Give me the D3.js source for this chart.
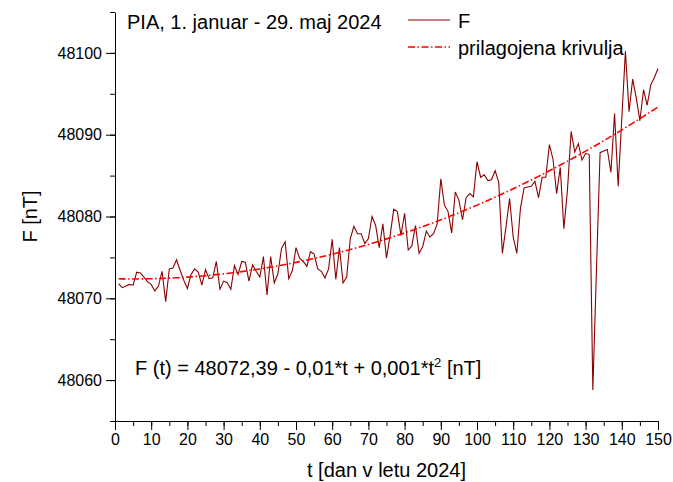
<!DOCTYPE html>
<html>
<head>
<meta charset="utf-8">
<script src="https://cdn.jsdelivr.net/npm/d3@7/dist/d3.min.js"></script>
<style>
  body { margin: 0; background: #fff; }
  svg { display: block; font-family: "Liberation Sans", Arial, sans-serif; }
</style>
</head>
<body>
<div id="chart"></div>
<script>
// day of year 2024 (1. januar = 1 ... 29. maj = 150)
var days = d3.range(1, 151);
// daily F values [nT]
var fValues = [
  48071.8, 48071.3, 48071.5, 48071.7, 48071.6, 48073.2, 48073.1, 48072.6, 48072.0, 48071.7,
  48070.9, 48071.5, 48073.3, 48069.6, 48073.6, 48073.7, 48074.7, 48073.4, 48072.2, 48071.2,
  48072.9, 48073.6, 48073.2, 48071.6, 48073.5, 48072.4, 48072.5, 48074.5, 48071.1, 48072.1,
  48071.9, 48071.1, 48074.0, 48072.9, 48074.5, 48074.4, 48072.1, 48074.1, 48073.3, 48072.6,
  48075.1, 48070.4, 48075.1, 48071.9, 48073.0, 48076.1, 48076.9, 48072.4, 48073.4, 48076.2,
  48074.9, 48074.5, 48073.9, 48075.7, 48075.4, 48073.6, 48073.3, 48072.5, 48073.6, 48077.2,
  48072.3, 48076.2, 48071.9, 48072.6, 48077.3, 48078.8, 48077.9, 48077.9, 48076.7, 48077.3,
  48080.0, 48078.9, 48076.2, 48079.1, 48074.9, 48077.7, 48080.9, 48080.6, 48077.7, 48080.4,
  48075.9, 48076.4, 48078.9, 48075.5, 48076.3, 48078.2, 48077.5, 48077.9, 48079.1, 48084.6,
  48081.4, 48080.6, 48078.0, 48083.0, 48082.0, 48079.6, 48082.3, 48082.8, 48082.4, 48086.7,
  48084.8, 48085.1, 48084.4, 48084.5, 48085.6, 48084.2, 48075.5, 48078.7, 48082.2, 48077.5,
  48075.5, 48081.0, 48083.5, 48083.6, 48083.7, 48084.3, 48082.3, 48084.8, 48084.8, 48088.8,
  48087.0, 48082.8, 48086.0, 48078.5, 48083.3, 48090.4, 48087.9, 48088.9, 48086.9, 48087.7,
  48087.6, 48058.8, 48073.5, 48087.8, 48088.0, 48088.2, 48085.4, 48092.6, 48083.7, 48092.0,
  48100.2, 48092.8, 48096.8, 48094.5, 48091.7, 48095.5, 48093.6, 48096.1, 48097.0, 48098.1
];
// fitted curve F(t) = a + b*t + c*t^2, coefficients as printed on the chart
var fitCoef = [48072.39, -0.01, 0.001];
var xTicks = d3.range(0, 151, 10);
var yTicks = [48060, 48070, 48080, 48090, 48100];

var width = 673, height = 482;
var margin = {top: 12, right: 15, bottom: 61, left: 115};

var svg = d3.select('#chart').append('svg')
    .attr('width', width)
    .attr('height', height);

var x = d3.scaleLinear().domain([0, 150]).range([margin.left, width - margin.right]);
var y = d3.scaleLinear().domain([48055, 48105]).range([height - margin.bottom, margin.top]);

// minor ticks
svg.append('g')
    .attr('transform', 'translate(0,' + y.range()[0] + ')')
    .call(d3.axisBottom(x).tickValues(d3.range(0, 151, 5)).tickSize(5).tickFormat(''))
    .call(function(g) { g.select('.domain').remove(); });
svg.append('g')
    .attr('transform', 'translate(' + margin.left + ',0)')
    .call(d3.axisLeft(y).tickValues(d3.range(48055, 48106, 5)).tickSize(5).tickFormat(''))
    .call(function(g) { g.select('.domain').remove(); });

// major axes
var xAxis = svg.append('g')
    .attr('transform', 'translate(0,' + y.range()[0] + ')')
    .call(d3.axisBottom(x).tickValues(xTicks).tickSize(9).tickSizeOuter(0).tickPadding(4));
var yAxis = svg.append('g')
    .attr('transform', 'translate(' + margin.left + ',0)')
    .call(d3.axisLeft(y).tickValues(yTicks).tickSize(9).tickSizeOuter(0).tickPadding(4).tickFormat(d3.format('d')));

svg.selectAll('.tick text').attr('font-size', 16).attr('font-family', '"Liberation Sans", Arial, sans-serif').attr('fill', '#000');
svg.selectAll('.domain, .tick line').attr('stroke', '#000').attr('stroke-width', 1);

// F line
var line = d3.line()
    .x(function(d, i) { return x(days[i]); })
    .y(function(d) { return y(d); });

svg.append('path')
    .datum(fValues)
    .attr('fill', 'none')
    .attr('stroke', '#8b0000')
    .attr('stroke-width', 1.1)
    .attr('d', line);

// fitted curve
var fitValues = days.map(function(t) { return fitCoef[0] + fitCoef[1] * t + fitCoef[2] * t * t; });
svg.append('path')
    .datum(fitValues)
    .attr('fill', 'none')
    .attr('stroke', '#ff0000')
    .attr('stroke-width', 1.6)
    .attr('stroke-dasharray', '7,2.5,1.5,2.5')
    .attr('d', line);

// title
svg.append('text')
    .attr('x', 127).attr('y', 29)
    .attr('font-size', 20)
    .text('PIA, 1. januar - 29. maj 2024');

// legend
var legend = [
  {label: 'F', color: '#8b0000', dash: null, w: 1.1, y: 20},
  {label: 'prilagojena krivulja', color: '#ff0000', dash: '7,2.5,1.5,2.5', w: 1.6, y: 47}
];
var lg = svg.selectAll('g.legend').data(legend).enter().append('g').attr('class', 'legend');
lg.append('line')
    .attr('x1', 408).attr('x2', 450)
    .attr('y1', function(d) { return d.y; }).attr('y2', function(d) { return d.y; })
    .attr('stroke', function(d) { return d.color; })
    .attr('stroke-width', function(d) { return d.w; })
    .attr('stroke-dasharray', function(d) { return d.dash; });
lg.append('text')
    .attr('x', 458)
    .attr('y', function(d) { return d.y + 8; })
    .attr('font-size', 20)
    .text(function(d) { return d.label; });

// equation
var eq = svg.append('text')
    .attr('x', 135).attr('y', 375)
    .attr('font-size', 20);
eq.append('tspan').text('F (t) = 48072,39 - 0,01*t + 0,001*t');
eq.append('tspan').attr('dy', -8).attr('font-size', 13).text('2');
eq.append('tspan').attr('dy', 8).text(' [nT]');

// axis titles
svg.append('text')
    .attr('x', (x.range()[0] + x.range()[1]) / 2)
    .attr('y', 477)
    .attr('text-anchor', 'middle')
    .attr('font-size', 20)
    .text('t [dan v letu 2024]');
svg.append('text')
    .attr('transform', 'translate(37,' + y(48080) + ') rotate(-90)')
    .attr('text-anchor', 'middle')
    .attr('font-size', 20)
    .text('F [nT]');
</script>
</body>
</html>
